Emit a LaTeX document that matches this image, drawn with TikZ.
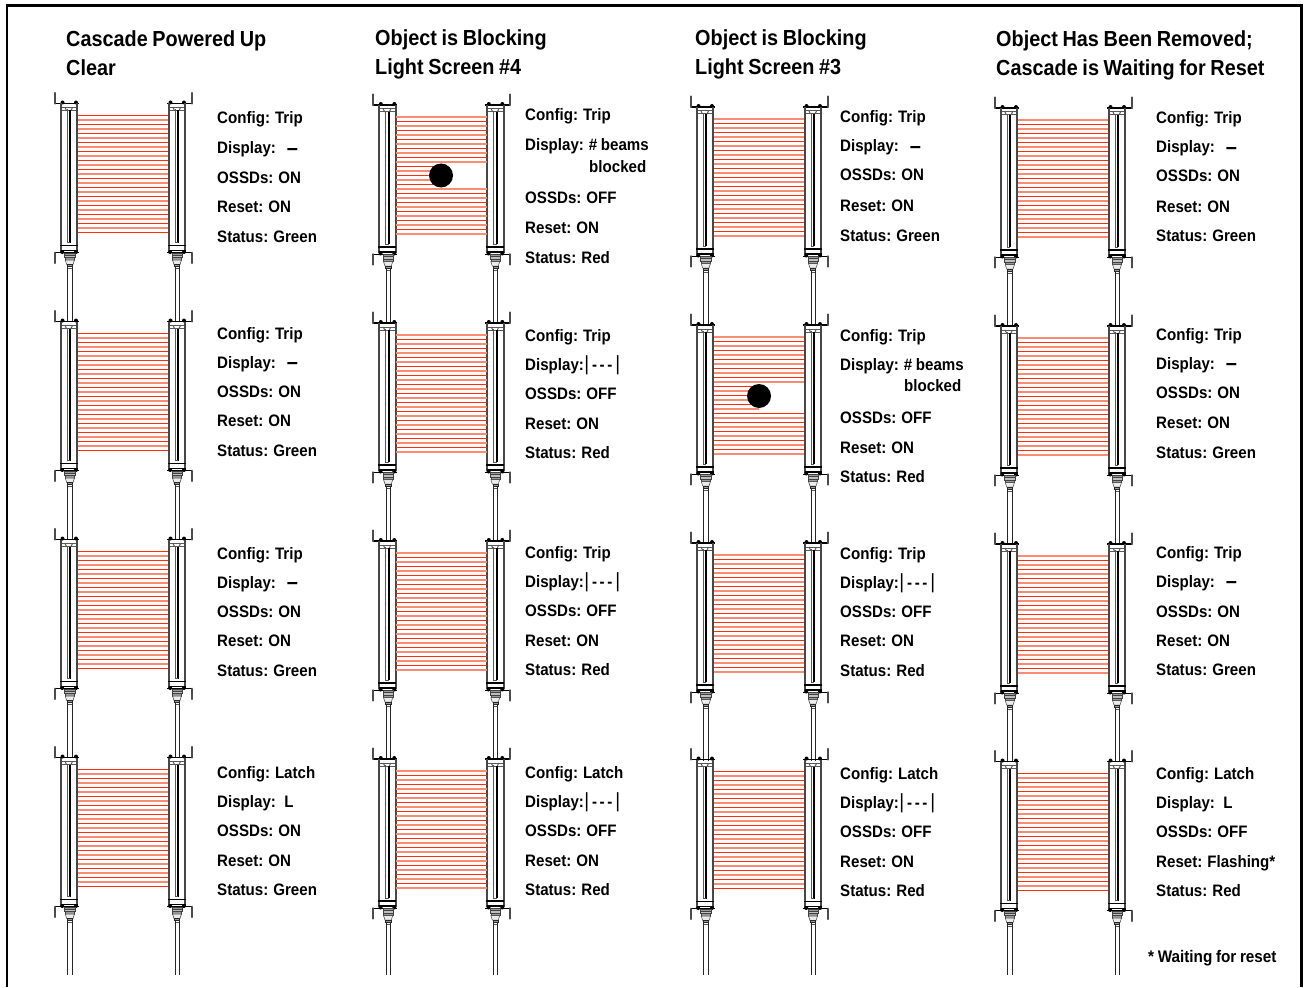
\documentclass[tikz,border=0pt]{standalone}
\usepackage{fontspec}
\setmainfont[FakeStretch=0.91,WordSpace=0.85]{Liberation Sans}
\newcounter{lbl}
\definecolor{beamred}{rgb}{1,0.18,0.05}
\definecolor{beamsalmon}{rgb}{0.98,0.55,0.45}
\tikzset{
  labeltext/.style={anchor=base west,inner sep=0pt,font=\bfseries\fontsize{16.6}{18}\selectfont,text=black},
  titletext/.style={anchor=base west,inner sep=0pt,font=\bfseries\fontsize{21.8}{24}\selectfont,text=black},
  notetext/.style={anchor=base west,inner sep=0pt,font=\bfseries\fontsize{16.8}{18}\selectfont,text=black},
  frameline/.style={line width=2.6pt,black},
  beamstrong/.style={line width=1pt,beamred},
  beamlight/.style={line width=2pt,beamsalmon},
  edgeline/.style={line width=1.9pt,black!72},
  thinline/.style={line width=1pt,black!65},
  coreline/.style={line width=2pt,black},
  bracketline/.style={line width=1.2pt,black},
  tabline/.style={line width=2.2pt,black!70,line cap=round},
  cableline/.style={line width=1.1pt,black!85},
  objectdisc/.style={circle,fill=black,minimum size=24pt,inner sep=0pt},
}
\newcommand{\barunit}[5]{%
\begin{scope}[shift={(#1,#2)}]
  \pgfmathsetmacro{\tabx}{#3==0?-5.3:23.7}
  \pgfmathsetmacro{\brL}{#3==0?-5.3:-1}
  \pgfmathsetmacro{\brR}{#3==0?19:23.7}
  \draw[bracketline] (\brL,-12) -- (\brR,-12);
  \draw[tabline] (\tabx,-22.5) -- (\tabx,-12);
  \fill (2.5,-13) circle (2);
  \fill (16,-13) circle (2);
  \draw[thinline] (0.3,-8) -- (17.7,-8);
  \draw[thinline] (0.3,-5) -- (17.7,-5);
  \draw[thinline] (5,-8) -- (6.5,-5) (12.5,-8) -- (11,-5);
  \draw[edgeline] (0.7,-12) -- (0.7,136);
  \draw[edgeline] (17.3,-12) -- (17.3,136);
  \draw[thinline] (7,-6) -- (7,127);
  \draw[coreline] (10.3,-5) -- (10.3,127);
  \draw[thinline] (7,127) -- (10.3,127);
  \draw[bracketline] (0,130) -- (18,130);
  \draw[bracketline] (0.5,135) -- (17.5,135);
  \fill (2.2,136.5) circle (2);
  \fill (16,136.5) circle (2);
  \draw[bracketline] (\brL,137.3) -- (\brR,137.3);
  \draw[tabline] (\tabx,137.3) -- (\tabx,147.5);
  \filldraw[fill=black!40,draw=black!75,line width=0.5pt] (#4-3,137.5) rectangle (#5+3,139.5);
  \filldraw[fill=black!25,draw=black!75,line width=0.5pt] (#4-3,139.5) rectangle (#5+3,142);
  \filldraw[fill=black!40,draw=black!75,line width=0.5pt] (#4-2.5,142) rectangle (#5+2.5,144.5);
  \filldraw[fill=black!8,draw=black!75,line width=0.5pt] (#4-2.5,144.5) -- (#5+2.5,144.5) -- (#5+1,149) -- (#4-1,149) -- cycle;
  \filldraw[fill=black!40,draw=black!85,line width=0.5pt] (#4-0.5,149) rectangle (#5+0.5,151);
  \draw[thinline] (#4-0.5,153) -- (#5+0.5,153);
\end{scope}}
\newcommand{\screenpair}[5]{%
  \pgfmathsetmacro{\xr}{#1+108}
  \pgfmathsetmacro{\xa}{#1+18}
  \barunit{#1}{#2}{0}{7.7}{12}
  \barunit{\xr}{#2}{1}{7}{11}
  \pgfmathsetmacro{\cs}{#2+151}
  \foreach \cx in {7.7,12}{\draw[cableline] ({floor(#1+\cx)+0.5},\cs) -- ({floor(#1+\cx)+0.5},#3);}
  \foreach \cx in {7,11}{\draw[cableline] ({floor(\xr+\cx)+0.5},\cs) -- ({floor(\xr+\cx)+0.5},#3);}
  \foreach \i in {0,...,26}{%
    \pgfmathsetmacro{\yy}{#2+4.5*\i}
    \pgfmathsetmacro{\blk}{(#5>0)&&(abs(\yy-#5)<13.2)?1:0}
    \pgfmathsetmacro{\xe}{\blk>0?#4:\xr+0.2}
    \pgfmathsetmacro{\fr}{abs(\yy-floor(\yy)-0.5)<0.1?1:0}
    \ifdim\fr pt>0.5pt
      \draw[beamstrong] (\xa,\yy) -- (\xe,\yy);
    \else
      \draw[beamlight] (\xa,\yy) -- (\xe,\yy);
    \fi
  }
  \ifdim #5pt>0pt
    \stepcounter{lbl}\node[objectdisc] (obj\thelbl) at (#4,#5) {};
  \fi
}
\newcommand{\txt}[3]{\stepcounter{lbl}\node[labeltext] (n\thelbl) at (#1,#2+6) {#3};}
\newcommand{\ttl}[3]{\stepcounter{lbl}\node[titletext] (n\thelbl) at (#1,#2+7.5) {#3};}
\newcommand{\bars}{\kern0.3pt{\fontsize{20.5}{21}\mdseries\selectfont|}\kern3pt-\kern2.6pt-\kern2.6pt-\kern3pt{\fontsize{20.5}{21}\mdseries\selectfont|}}
\newcommand{\longdash}{\kern11pt{\fontsize{22}{22}\selectfont\raisebox{-1.5pt}{–}}}
\newcommand{\blockA}[6]{%
  \txt{#1}{#2}{Config: Trip}\txt{#1}{#3}{Display:\longdash}\txt{#1}{#4}{OSSDs: ON}\txt{#1}{#5}{Reset: ON}\txt{#1}{#6}{Status: Green}}
\newcommand{\blockB}[6]{%
  \txt{#1}{#2}{Config: Trip}\txt{#1}{#3}{Display:\bars}\txt{#1}{#4}{OSSDs: OFF}\txt{#1}{#5}{Reset: ON}\txt{#1}{#6}{Status: Red}}
\newcommand{\blockC}[7]{%
  \txt{#1}{#2}{Config: Trip}\txt{#1}{#3}{Display: \# beams}\txt{#1+64}{#4}{blocked}\txt{#1}{#5}{OSSDs: OFF}\txt{#1}{#6}{Reset: ON}\txt{#1}{#7}{Status: Red}}
\newcommand{\blockL}[6]{%
  \txt{#1}{#2}{Config: Latch}\txt{#1}{#3}{Display:\bars}\txt{#1}{#4}{OSSDs: OFF}\txt{#1}{#5}{Reset: ON}\txt{#1}{#6}{Status: Red}}
\begin{document}
\begin{tikzpicture}[x=1pt,y=-1pt]
\useasboundingbox (0,0) rectangle (1305,987);
\draw[frameline] (7,987) -- (7,5.5) -- (1301.5,5.5) -- (1301.5,987);
\ttl{66}{39}{Cascade Powered Up}\ttl{66}{68}{Clear}
\ttl{375}{38}{Object is Blocking}\ttl{375}{67}{Light Screen \#4}
\ttl{695}{38}{Object is Blocking}\ttl{695}{67}{Light Screen \#3}
\ttl{996}{39}{Object Has Been Removed;}\ttl{996}{68}{Cascade is Waiting for Reset}
\screenpair{60}{115.5}{321}{0}{0}
\screenpair{60}{333.5}{539}{0}{0}
\screenpair{60}{551.5}{757}{0}{0}
\screenpair{60}{769.5}{975}{0}{0}
\blockA{217}{118}{148}{177}{206}{236}
\blockA{217}{333}{362}{391}{420}{450}
\blockA{217}{553}{582}{611}{640}{670}
\txt{217}{772}{Config: Latch}\txt{217}{801}{Display:\kern8.5pt L}\txt{217}{830}{OSSDs: ON}\txt{217}{860}{Reset: ON}\txt{217}{889}{Status: Green}
\screenpair{378.3}{117}{323}{441}{175.5}
\screenpair{378.3}{335}{541}{0}{0}
\screenpair{378.3}{553}{759}{0}{0}
\screenpair{378.3}{771}{975}{0}{0}
\blockC{525}{115}{145}{166}{198}{227}{257}
\blockB{525}{335}{364}{393}{423}{452}
\blockB{525}{552}{581}{610}{640}{669}
\blockL{525}{772}{801}{830}{860}{889}
\screenpair{696}{119}{325}{0}{0}
\screenpair{696}{337}{543}{759}{396}
\screenpair{696}{555}{761}{0}{0}
\screenpair{696}{771.5}{975}{0}{0}
\blockA{840}{117}{146}{175}{205}{235}
\blockC{840}{335}{364}{385}{417}{447}{476}
\blockB{840}{553}{582}{611}{640}{670}
\blockL{840}{773}{802}{831}{861}{890}
\screenpair{1000}{120}{326}{0}{0}
\screenpair{1000}{338}{544}{0}{0}
\screenpair{1000}{556}{762}{0}{0}
\screenpair{1000}{773.5}{975}{0}{0}
\blockA{1156}{118}{147}{176}{206}{235}
\blockA{1156}{334}{363}{392}{422}{452}
\blockA{1156}{552}{581}{611}{640}{669}
\txt{1156}{773}{Config: Latch}\txt{1156}{802}{Display:\kern8.5pt L}\txt{1156}{831}{OSSDs: OFF}\txt{1156}{861}{Reset: Flashing*}\txt{1156}{890}{Status: Red}
\stepcounter{lbl}\node[notetext] (n\thelbl) at (1148,962) {* Waiting for reset};
\end{tikzpicture}
\end{document}
